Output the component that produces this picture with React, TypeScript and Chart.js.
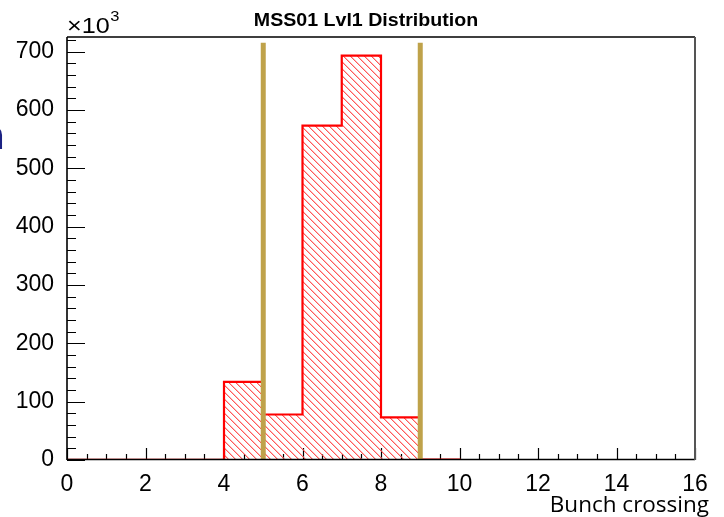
import React, { useEffect, useRef } from "react";
import { Chart, registerables } from "chart.js";

Chart.register(...registerables);

// Histogram bins (unit width), counts in units of 10^3
const binEdges = [0, 1, 2, 3, 4, 5, 6, 7, 8, 9, 10, 11, 12, 13, 14, 15, 16];
const binCounts = [0.4, 0.4, 0.4, 0.4, 134, 78, 573, 693, 73, 0.8, 0, 0, 0, 0, 0, 0];

// Cut markers drawn as vertical bars
const cutPositions = [5, 9];
const cutHeight = 715;

// Axis ticks
const xTicks = [0, 2, 4, 6, 8, 10, 12, 14, 16];
const yTicks = [0, 100, 200, 300, 400, 500, 600, 700];
const xMinorStep = 0.5;
const yMinorStep = 20;
const xRange = [0, 16];
const yRange = [0, 725];

const titleText = "MSS01 Lvl1 Distribution";
const xAxisTitle = "Bunch crossing";
const yScaleText = "×10";
const yScaleExp = "3";

function makeHatch(): CanvasPattern | string {
  const size = 7;
  const c = document.createElement("canvas");
  c.width = size;
  c.height = size;
  const g = c.getContext("2d");
  if (!g) return "rgba(255,0,0,0.3)";
  for (let i = 0; i < size; i++) {
    g.fillStyle = "rgba(255,60,60,0.85)";
    g.fillRect(i, i, 1, 1);
    g.fillStyle = "rgba(255,140,140,0.6)";
    g.fillRect((i + 1) % size, i, 1, 1);
  }
  const p = g.createPattern(c, "repeat");
  return p || "rgba(255,0,0,0.3)";
}

// Draws text stretched horizontally by sx, anchored at (x, y)
function stretchedText(ctx: CanvasRenderingContext2D, text: string, x: number, y: number, sx: number) {
  ctx.save();
  ctx.translate(x, y);
  ctx.scale(sx, 1);
  ctx.fillText(text, 0, 0);
  ctx.restore();
}

// ROOT-style inner ticks on the bottom and left axes
const axisTicksPlugin = {
  id: "innerTicks",
  beforeDatasetsDraw(chart: any) {
    const { ctx, chartArea, scales } = chart;
    const xs = scales.x;
    const ys = scales.y;
    ctx.save();
    ctx.strokeStyle = "#000";
    ctx.lineWidth = 1.2;
    ctx.beginPath();
    for (let v = xRange[0]; v <= xRange[1] + 1e-9; v += xMinorStep) {
      const px = Math.round(xs.getPixelForValue(v)) + 0.5;
      const major = xTicks.some((t) => Math.abs(t - v) < 1e-9);
      const len = major ? 12 : 6;
      ctx.moveTo(px, chartArea.bottom);
      ctx.lineTo(px, chartArea.bottom - len);
    }
    for (let v = yRange[0]; v <= yRange[1] + 1e-9; v += yMinorStep) {
      const py = Math.round(ys.getPixelForValue(v)) + 0.5;
      const major = yTicks.some((t) => Math.abs(t - v) < 1e-9);
      const len = major ? 18 : 9;
      ctx.moveTo(chartArea.left, py);
      ctx.lineTo(chartArea.left + len, py);
    }
    ctx.stroke();
    ctx.restore();
  },
  afterDatasetsDraw(chart: any) {
    const { ctx, chartArea } = chart;
    const { left, right, top, bottom } = chartArea;
    ctx.save();
    ctx.strokeStyle = "#000";
    ctx.lineWidth = 1.6;
    ctx.beginPath();
    ctx.moveTo(left, top);
    ctx.lineTo(right, top);
    ctx.moveTo(left, top);
    ctx.lineTo(left, bottom);
    ctx.moveTo(left, bottom - 0.5);
    ctx.lineTo(right, bottom - 0.5);
    ctx.stroke();
    ctx.strokeStyle = "#555";
    ctx.lineWidth = 2;
    ctx.beginPath();
    ctx.moveTo(right, top);
    ctx.lineTo(right, bottom);
    ctx.stroke();
    ctx.restore();
  },
  afterDraw(chart: any) {
    const { ctx, chartArea } = chart;
    ctx.save();
    ctx.fillStyle = "#000";
    ctx.textBaseline = "alphabetic";

    // title
    ctx.font = 'bold 17.5px "Liberation Sans", Arial, sans-serif';
    ctx.textAlign = "left";
    const tw = ctx.measureText(titleText).width * 1.12;
    stretchedText(ctx, titleText, 366 - tw / 2, 26, 1.12);

    // axis multiplier
    ctx.font = '22.5px "Liberation Sans", Arial, sans-serif';
    const w = ctx.measureText(yScaleText).width * 1.12;
    stretchedText(ctx, yScaleText, chartArea.left, 33, 1.12);
    ctx.font = '15px "Liberation Sans", Arial, sans-serif';
    stretchedText(ctx, yScaleExp, chartArea.left + w + 0.5, 21, 1.1);

    // x axis title
    ctx.textAlign = "right";
    ctx.font = '22.5px "Open Sans", Lato, sans-serif';
    ctx.fillText(xAxisTitle, 709, 512);

    ctx.fillStyle = "#1c2283";
    ctx.textAlign = "left";
    ctx.font = 'bold 40px "Open Sans", sans-serif';
    const nw = ctx.measureText("n").width;
    ctx.fillText("n", 5 - nw, 149);
    ctx.restore();
  },
};

export default function App() {
  const canvasRef = useRef<HTMLCanvasElement | null>(null);

  useEffect(() => {
    const canvas = canvasRef.current;
    if (!canvas) return;

    const histPoints = binCounts.map((c, i) => ({ x: binEdges[i], y: c }));
    histPoints.push({ x: binEdges[binEdges.length - 1], y: binCounts[binCounts.length - 1] });

    const cutSets = cutPositions.map((x) => ({
      type: "line" as const,
      data: [
        { x, y: 0 },
        { x, y: cutHeight },
      ],
      borderColor: "#bfa24a",
      borderWidth: 5,
      borderCapStyle: "butt" as const,
      pointRadius: 0,
      fill: false,
      order: 0,
    }));

    const tickFont = { family: '"Liberation Sans", Arial, sans-serif', size: 23 };

    const chart = new Chart(canvas, {
      type: "line",
      data: {
        datasets: [
          ...cutSets,
          {
            data: histPoints,
            stepped: "before",
            borderColor: "#ff0000",
            borderWidth: 2.2,
            backgroundColor: makeHatch() as any,
            fill: "origin",
            pointRadius: 0,
            order: 1,
          },
        ],
      },
      options: {
        animation: false,
        responsive: false,
        events: [],
        layout: { padding: { top: 37, right: 29, left: 0, bottom: 0 } },
        plugins: {
          legend: { display: false },
          tooltip: { enabled: false },
          title: { display: false },
        },
        scales: {
          x: {
            type: "linear",
            min: xRange[0],
            max: xRange[1],
            grid: { display: false },
            border: { display: false },
            ticks: { color: "#000", font: tickFont, padding: 3, maxRotation: 0 },
            afterBuildTicks: (s: any) => {
              s.ticks = xTicks.map((v) => ({ value: v }));
            },
            afterFit: (s: any) => {
              s.height = 57;
            },
          },
          y: {
            type: "linear",
            min: yRange[0],
            max: yRange[1],
            grid: { display: false },
            border: { display: false },
            ticks: { color: "#000", font: tickFont, padding: 5 },
            afterBuildTicks: (s: any) => {
              s.ticks = yTicks.map((v) => ({ value: v }));
            },
            afterFit: (s: any) => {
              s.width = 67;
            },
          },
        },
      },
      plugins: [axisTicksPlugin],
    });

    return () => chart.destroy();
  }, []);

  return (
    <div
      style={{
        position: "fixed",
        left: 0,
        top: 0,
        width: 724,
        height: 517,
        background: "#fff",
      }}
    >
      <canvas ref={canvasRef} width={724} height={517} style={{ display: "block" }} />
    </div>
  );
}
